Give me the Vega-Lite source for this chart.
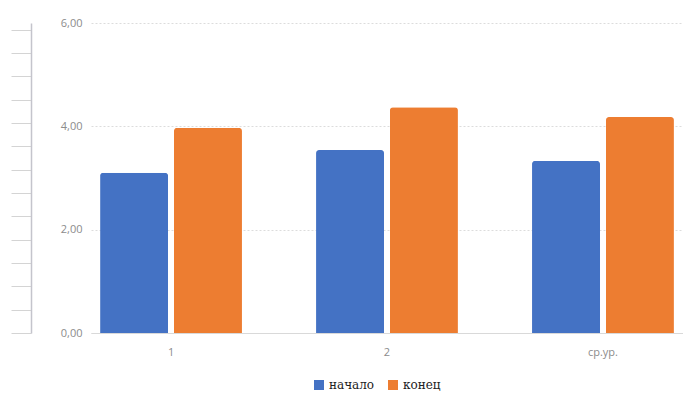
{
  "$schema": "https://vega.github.io/schema/vega-lite/v6.json",
  "width": 592,
  "height": 310,
  "autosize": "none",
  "padding": {"left": 91, "top": 23, "right": 0, "bottom": 74},
  "config": {"view": {"stroke": null}, "font": "Open Sans"},
  "data": {"values": [
    {"group": "1", "series": "начало", "value": 3.10},
    {"group": "1", "series": "конец", "value": 3.97},
    {"group": "2", "series": "начало", "value": 3.54},
    {"group": "2", "series": "конец", "value": 4.37},
    {"group": "ср.ур.", "series": "начало", "value": 3.33},
    {"group": "ср.ур.", "series": "конец", "value": 4.18}
  ]},
  "layer": [
    {
      "mark": {"type": "bar", "cornerRadiusTopLeft": 3, "cornerRadiusTopRight": 3},
      "encoding": {
        "x": {"field": "group", "type": "nominal", "sort": ["1", "2", "ср.ур."],
          "scale": {"paddingInner": 0.343, "paddingOuter": 0.042},
          "axis": {"title": null, "labelAngle": 0, "domain": true, "domainColor": "#d9d9d9", "ticks": false,
            "labelColor": "#8c8c8c", "labelFontSize": 11, "labelPadding": 13}},
        "xOffset": {"field": "series", "type": "nominal", "sort": ["начало", "конец"], "scale": {"paddingInner": 0.08}},
        "y": {"field": "value", "type": "quantitative", "scale": {"domain": [0, 6]},
          "axis": {"title": null, "values": [0, 2, 4, 6], "labelExpr": "replace(format(datum.value, '.2f'), '.', ',')",
            "domain": false, "ticks": false, "labelPadding": 9, "labelColor": "#8c8c8c", "labelFontSize": 11,
            "gridColor": "#dcdcdc", "gridDash": [2, 2]}},
        "color": {"field": "series", "type": "nominal", "sort": ["начало", "конец"],
          "scale": {"domain": ["начало", "конец"], "range": ["#4472C4", "#ED7D31"]},
          "legend": {"title": null, "orient": "none", "legendX": 222, "legendY": 356, "direction": "horizontal", "symbolType": "square", "symbolSize": 100,
            "labelFont": "DejaVu Serif", "labelFontSize": 12, "labelColor": "#222222", "columnPadding": 12}}
      }
    },
    {
      "mark": {"type": "point", "opacity": 0},
      "encoding": {
        "y": {"field": "value", "type": "quantitative", "scale": {"domain": [0, 13.286]},
          "axis": {"title": null, "orient": "left", "offset": 60, "values": [0, 1, 2, 3, 4, 5, 6, 7, 8, 9, 10, 11, 12, 13],
            "labels": false, "grid": false, "domainColor": "#c4c4cc", "domainWidth": 1.5, "tickColor": "#d4d4d4", "tickSize": 20}}
      }
    }
  ],
  "resolve": {"scale": {"y": "independent"}}
}
